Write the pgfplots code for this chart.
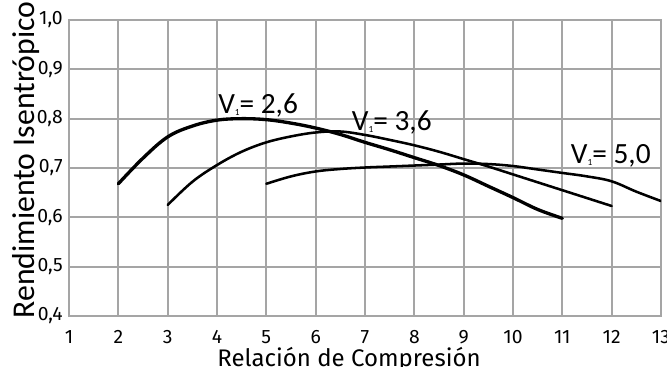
\documentclass[border=0pt]{standalone}
\usepackage{pgfplots}
\pgfplotsset{compat=1.18}
\usepackage{fontspec}
\setmainfont{Fira Sans}
\newfontfamily\carl{Carlito}
\usetikzlibrary{calc}
\definecolor{gridc}{RGB}{165,165,165}

\pgfplotstableread{
x y
2 0.668
2.5 0.720
3 0.763
3.5 0.785
4 0.797
4.5 0.800
5 0.798
5.5 0.791
6 0.781
6.5 0.768
7 0.752
7.5 0.737
8 0.721
8.5 0.705
9 0.686
9.5 0.663
10 0.640
10.5 0.616
11 0.598
}\curveA

\pgfplotstableread{
x y
3 0.625
3.5 0.672
4 0.706
4.5 0.733
5 0.752
5.5 0.764
6 0.772
6.5 0.774
7 0.767
7.5 0.757
8 0.746
8.5 0.733
9 0.718
9.5 0.703
10 0.687
10.5 0.671
11 0.655
11.5 0.639
12 0.623
}\curveB

\pgfplotstableread{
x y
5 0.668
5.5 0.683
6 0.693
6.5 0.698
7 0.701
7.5 0.703
8 0.705
8.5 0.707
9 0.709
9.5 0.708
10 0.704
10.5 0.697
11 0.690
11.5 0.683
12 0.673
12.5 0.652
13 0.633
}\curveC

\begin{document}
\begin{tikzpicture}
\begin{axis}[name=ax, width=444pt, height=222pt, scale only axis,
  xmin=1, xmax=13, ymin=0.4, ymax=1.0,
  xtick={1,2,3,4,5,6,7,8,9,10,11,12,13},
  xticklabels={1,2,3,4,5,6,7,8,9,10,11,12,13},
  ytick={0.4,0.5,0.6,0.7,0.8,0.9,1.0},
  yticklabels={{0,4},{0,5},{0,6},{0,7},{0,8},{0,9},{1,0}},
  grid=major, major grid style={gridc, line width=1.3pt},
  axis line style={gridc, line width=1.3pt},
  major tick length=0pt,
  xticklabel style={font=\fontsize{14.5}{14.5}\selectfont, inner sep=0pt, anchor=north, yshift=-10.5pt},
  yticklabel style={font=\fontsize{14.5}{14.5}\selectfont, inner sep=0pt, anchor=east, xshift=-4.5pt},
  xlabel={Relación de Compresión},
  xlabel style={font=\fontsize{18}{18}\selectfont, at={(axis description cs:0.473,0)}, anchor=base, yshift=-37.9pt, inner sep=0pt},
  ylabel={Rendimiento Isentrópico},
  ylabel style={font=\carl\fontsize{23.8}{23.8}\selectfont, at={(axis description cs:0,0.527)}, anchor=base, yshift=25.5pt, inner sep=0pt},
]
\addplot[black, line width=2.5pt, line cap=round, smooth, tension=0.6] table[x=x,y=y] {\curveA};
\addplot[black, line width=1.9pt, line cap=round, smooth, tension=0.6] table[x=x,y=y] {\curveB};
\addplot[black, line width=1.9pt, line cap=round, smooth, tension=0.6] table[x=x,y=y] {\curveC};
\node[anchor=base west, inner sep=0pt, font=\carl\fontsize{22}{22}\selectfont] at (axis cs:4.02,0.811) {V\raisebox{-2pt}{\fontsize{7}{7}\selectfont 1}= 2,6};
\node[anchor=base west, inner sep=0pt, font=\carl\fontsize{22}{22}\selectfont] at (axis cs:6.73,0.777) {V\raisebox{-2pt}{\fontsize{7}{7}\selectfont 1}= 3,6};
\node[anchor=base west, inner sep=0pt, font=\carl\fontsize{22}{22}\selectfont] at (axis cs:11.17,0.710) {V\raisebox{-2pt}{\fontsize{7}{7}\selectfont 1}= 5,0};
\end{axis}
\pgfresetboundingbox
\path[use as bounding box] ($(ax.south west)+(-51.75pt,-38.25pt)$) rectangle ($(ax.north east)+(4.5pt,15pt)$);
\end{tikzpicture}
\end{document}
